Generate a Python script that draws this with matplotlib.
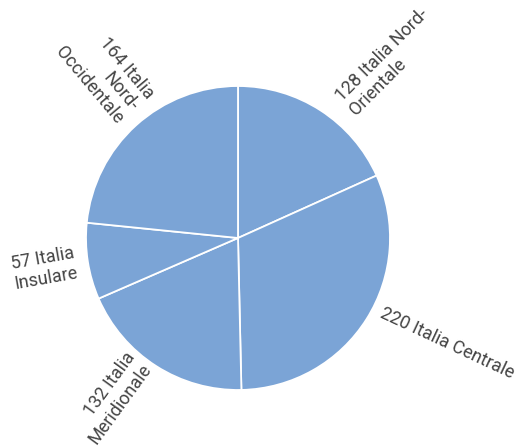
import numpy as np
from matplotlib import pyplot as plt

# counts per macro-region, clockwise from 12 o'clock
regions = ["Italia Nord-Orientale", "Italia Centrale", "Italia Meridionale",
           "Italia Insulare", "Italia Nord-Occidentale"]
counts = [128, 220, 132, 57, 164]
# wrapped label text as shown on the chart
label_lines = ["Italia Nord-\nOrientale", "Italia Centrale", "Italia\nMeridionale",
               "Italia\nInsulare", "Italia\nNord-\nOccidentale"]

# label layout (anchor angle in deg, radius, text rotation)
lab_angle = [51, -27.5, 231, 188.8, 128.6]
lab_rad = [1.12, 1.06, 1.03, 1.08, 1.085]
lab_rot = [45, -25, 54, 10, -50]

fig = plt.figure(figsize=(5.17, 4.46), dpi=100)
ax = fig.add_axes([86 / 517, 56 / 446, 304 / 517, 304 / 446])

wedges, _ = ax.pie(counts, startangle=90, counterclock=False,
                   colors=["#7ba4d6"] * len(counts),
                   wedgeprops=dict(edgecolor="white", linewidth=1.3))
ax.set_xlim(-1, 1)
ax.set_ylim(-1, 1)

for n, txt, ang, r, rot in zip(counts, label_lines, lab_angle, lab_rad, lab_rot):
    a = np.deg2rad(ang)
    x, y = r * np.cos(a), r * np.sin(a)
    ha = "right" if 90 < ang % 360 < 270 else "left"
    ax.text(x, y, f"{n} {txt}", rotation=rot, rotation_mode="anchor",
            ha=ha, va="center", multialignment=ha, fontsize=13,
            color="#444444", family=["Roboto", "DejaVu Sans"],
            linespacing=1.12, clip_on=False)

fig.savefig("out.png", dpi=100)
